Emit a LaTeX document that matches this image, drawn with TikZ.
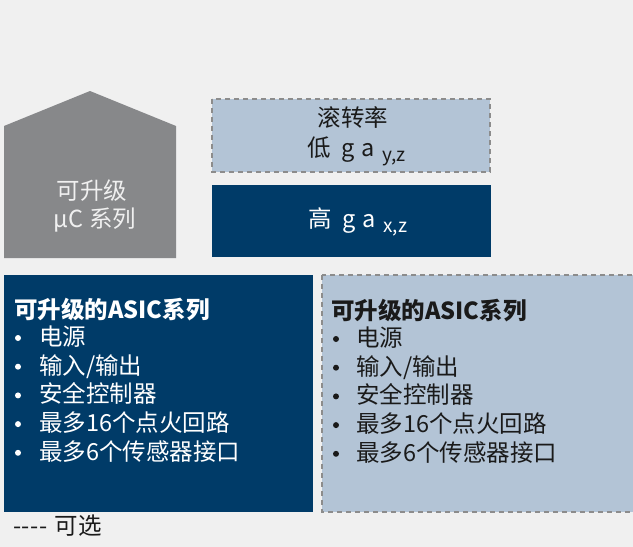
\documentclass[tikz,border=0pt]{standalone}
\usepackage{fontspec}
\setmainfont{Noto Sans CJK SC}
\definecolor{bg}{HTML}{F0F0F0}
\definecolor{darkblue}{HTML}{003B68}
\definecolor{lightblue}{HTML}{B3C4D6}
\definecolor{pgray}{HTML}{87888A}
\definecolor{dgray}{HTML}{8C8C8C}
\definecolor{txtdark}{HTML}{1A1A1A}
\newcommand{\subtxt}[1]{{\fontsize{19}{19}\selectfont\raisebox{-5pt}{#1}}}
\begin{document}
\begin{tikzpicture}[x=1pt,y=-1pt,
  txt/.style={inner sep=0pt, font=\fontsize{23.5}{28}\selectfont},
  optbox/.style={fill=lightblue, draw=dgray, line width=1.4pt, dash pattern=on 5pt off 4pt},
  solidbox/.style={fill=darkblue},
  item/.style={txt, anchor=base west}]
\fill[bg] (0,0) rectangle (633,547);
\useasboundingbox (0,0) rectangle (633,547);
% pentagon
\fill[pgray] (4,258) -- (4,126) -- (90,91) -- (176,126) -- (176,258) -- cycle;
\node[txt, anchor=base, text=bg] (mc1) at (92,199) {可升级};
\node[txt, anchor=base, text=bg] (mc2) at (95,227) {μC 系列};
% upper boxes
\draw[optbox] (212,99) rectangle (490,172);
\node[txt, anchor=base, text=txtdark] (roll) at (353,126) {滚转率};
\node[txt, anchor=base west, text=txtdark] (low) at (307,156) {低\hspace{11pt}g\hspace{7pt}a\hspace{7pt}\subtxt{y,z}};
\fill[solidbox] (212,185) rectangle (491,257);
\node[txt, anchor=base west, text=white] (high) at (308,227) {高\hspace{11pt}g\hspace{7pt}a\hspace{7pt}\subtxt{x,z}};
% lower boxes
\fill[solidbox] (4,275) rectangle (313,512);
\draw[optbox] (322,275) rectangle (645,512);
\node[item, text=white, font=\fontsize{23.5}{28}\selectfont\bfseries] (lt) at (14,318.5) {可升级的ASIC系列};
\node[item, text=txtdark, font=\fontsize{23.5}{28}\selectfont\bfseries] (rt) at (331,319.5) {可升级的ASIC系列};
\foreach \t [count=\i] in {电源,输入/输出,安全控制器,最多16个点火回路,最多6个传感器接口}{
  \pgfmathsetmacro{\yy}{345.5+28.7*(\i-1)}
  \fill[white] (18,\yy-7.5) circle (3);
  \node[item, text=white] (li\i) at (39,\yy) {\t};
  \fill[txtdark] (336,\yy-6.5) circle (3);
  \node[item, text=txtdark] (ri\i) at (356,\yy+1) {\t};
}
\node[item, text=txtdark] (legend) at (13,534) {-\hspace{0.6pt}-\hspace{0.6pt}-\hspace{0.6pt}-\hspace{7pt}可选};
\end{tikzpicture}
\end{document}
